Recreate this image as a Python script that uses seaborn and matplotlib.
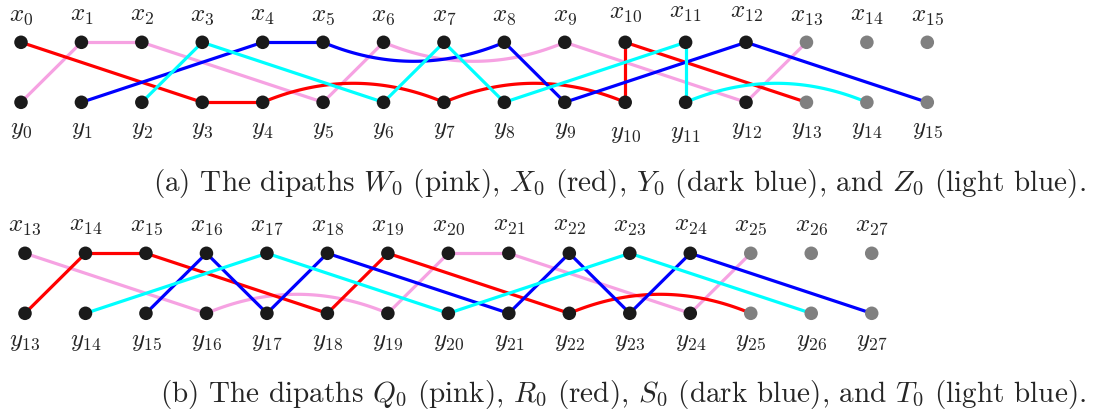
import numpy as np
import pandas as pd
import matplotlib
matplotlib.use('Agg')
import matplotlib.pyplot as plt
import seaborn as sns

# dipaths of panel (a), as sequences of vertices
path_W0 = ['y0', 'x1', 'x2', 'y5', 'x6', 'x9', 'y12', 'x13']
path_X0 = ['x0', 'y3', 'y4', 'y7', 'y10', 'x10', 'y13']
path_Y0 = ['y1', 'x4', 'x5', 'x8', 'y9', 'x12', 'y15']
path_Z0 = ['y2', 'x3', 'y6', 'x7', 'y8', 'x11', 'y11', 'y14']

# dipaths of panel (b)
path_Q0 = ['x13', 'y16', 'y19', 'x20', 'x21', 'y24', 'x25']
path_R0 = ['y13', 'x14', 'x15', 'y18', 'x19', 'y22', 'y25']
path_S0 = ['y15', 'x16', 'y17', 'x18', 'y21', 'x22', 'y23', 'x24', 'y27']
path_T0 = ['y14', 'x17', 'y20', 'x23', 'y26']

nodes_a = list(range(0, 16))
gray_a = [13, 14, 15]
nodes_b = list(range(13, 28))
gray_b = [25, 26, 27]

caption_a = r'(a) The dipaths $W_0$ (pink), $X_0$ (red), $Y_0$ (dark blue), and $Z_0$ (light blue).'
caption_b = r'(b) The dipaths $Q_0$ (pink), $R_0$ (red), $S_0$ (dark blue), and $T_0$ (light blue).'

colors = {'pink': '#F6A2E2', 'red': '#FF0000', 'blue': '#0000FF', 'cyan': '#00FFFF'}

sns.set_theme(style='white')
plt.rcParams['font.family'] = ['cmr10']
plt.rcParams['mathtext.fontset'] = 'cm'
plt.rcParams['axes.formatter.use_mathtext'] = True

fig = plt.figure(figsize=(10.95, 4.1), dpi=100)
ax = fig.add_axes([0, 0, 1, 1])

# layout of the two panels (pixel space)
panels = [
    dict(first=0, x0=21.0, step=60.42, top=43.3, bot=103.3, nodes=nodes_a, gray=gray_a,
         paths=[(path_W0, 'pink'), (path_X0, 'red'), (path_Y0, 'blue'), (path_Z0, 'cyan')],
         xlab=15.5, ylab=129.5, caption=caption_a, cap_y=191),
    dict(first=13, x0=25.0, step=60.48, top=254.3, bot=314.3, nodes=nodes_b, gray=gray_b,
         paths=[(path_Q0, 'pink'), (path_R0, 'red'), (path_S0, 'blue'), (path_T0, 'cyan')],
         xlab=225.5, ylab=341.5, caption=caption_b, cap_y=402),
]
bend = 19  # depth of the curved edges


def pos(p, v):
    i = int(v[1:])
    x = p['x0'] + p['step'] * (i - p['first'])
    y = p['top'] if v[0] == 'x' else p['bot']
    return x, y


rows = []
for p in panels:
    # edges
    for path, c in p['paths']:
        for a, b in zip(path[:-1], path[1:]):
            xa, ya = pos(p, a)
            xb, yb = pos(p, b)
            if a[0] == b[0] and abs(int(a[1:]) - int(b[1:])) > 1:
                sgn = 1 if a[0] == 'x' else -1
                cx, cy = (xa + xb) / 2, ya + sgn * 2 * bend
                t = np.linspace(0, 1, 60)
                xs = (1 - t) ** 2 * xa + 2 * t * (1 - t) * cx + t ** 2 * xb
                ys = (1 - t) ** 2 * ya + 2 * t * (1 - t) * cy + t ** 2 * yb
            else:
                xs, ys = [xa, xb], [ya, yb]
            ax.plot(xs, ys, color=colors[c], lw=2.3, solid_capstyle='butt', zorder=2)
    # vertices and labels
    for i in p['nodes']:
        kind = 'gray' if i in p['gray'] else 'black'
        for r in 'xy':
            x, y = pos(p, f'{r}{i}')
            rows.append(dict(px=x, py=y, kind=kind))
        xl = p['xlab']
        yl = p['ylab']
        if p['first'] == 0 and i in (10, 11, 12):
            xl -= 3
        if p['first'] == 0 and i in (10, 11):
            yl += 4
        ax.text(x, xl, f'$x_{{{i}}}$', ha='center', va='center', fontsize=18)
        ax.text(x, yl, f'$y_{{{i}}}$', ha='center', va='center', fontsize=18)
    ax.text(1086, p['cap_y'], p['caption'], ha='right', va='baseline', fontsize=21)

df = pd.DataFrame(rows)
sns.scatterplot(data=df, x='px', y='py', hue='kind',
                palette={'black': '#1a1a1a', 'gray': '#808080'},
                s=95, edgecolor=None, linewidth=0, legend=False, zorder=3, ax=ax)
ax.set_xlim(0, 1095)
ax.set_ylim(410, 0)
ax.axis('off')

fig.savefig('out.png', dpi=100)
